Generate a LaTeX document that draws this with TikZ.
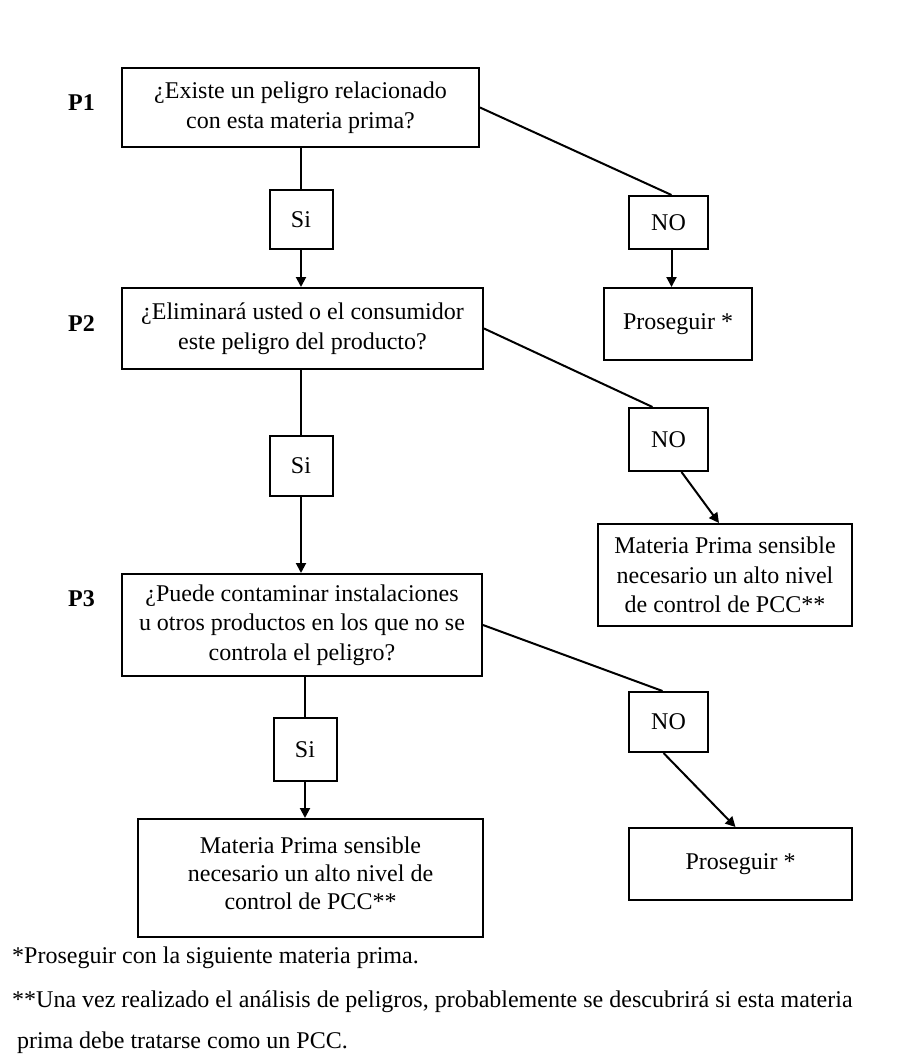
\documentclass[tikz,border=0pt]{standalone}
\usepackage{fontspec}
\setmainfont{Liberation Serif}
\usetikzlibrary{arrows.meta,calc}
\begin{document}
\begin{tikzpicture}[x=1pt,y=-1pt,
  box/.style={draw, line width=2pt, inner sep=0pt, align=center,
    font=\fontsize{24}{29.5}\selectfont},
  txt/.style={inner sep=0pt, align=center, font=\fontsize{24}{28}\selectfont},
  conn/.style={line width=2pt},
  arr/.style={conn, -{Triangle[length=10pt,width=10pt]}},
  qlabel/.style={anchor=base west, inner sep=0pt,
    font=\fontsize{24}{29}\selectfont\bfseries},
  note/.style={anchor=base west, inner sep=0pt,
    font=\fontsize{24}{29}\selectfont}]
\useasboundingbox (0,0) rectangle (903,1057);

% question labels
\node[qlabel] (l1) at (68,110) {P1};
\node[qlabel] (l2) at (68,331) {P2};
\node[qlabel] (l3) at (68,606) {P3};

% question boxes
\node[box, minimum width=357pt, minimum height=79pt] (p1) at (300.5,107.5)
  {¿Existe un peligro relacionado\\con esta materia prima?};
\node[box, minimum width=361pt, minimum height=81pt] (p2) at (302.5,328.5)
  {¿Eliminará usted o el consumidor\\este peligro del producto?};
\node[box, minimum width=360pt, minimum height=102pt] (p3) at (302,625)
  {¿Puede contaminar instalaciones\\u otros productos en los que no se\\controla el peligro?};

% answer boxes
\node[box, minimum width=63pt, minimum height=59pt] (si1) at (301,219.5) {Si};
\node[box, minimum width=63pt, minimum height=60pt] (si2) at (301,466) {Si};
\node[box, minimum width=63pt, minimum height=63pt] (si3) at (305,749.5) {Si};
\node[box, minimum width=79pt, minimum height=53pt] (no1) at (668.5,222.5) {NO};
\node[box, minimum width=79pt, minimum height=63pt] (no2) at (668.5,439.5) {NO};
\node[box, minimum width=79pt, minimum height=60pt] (no3) at (668.5,722) {NO};

% outcome boxes
\node[box, minimum width=148pt, minimum height=72pt] (pros1) at (678,324) {Proseguir *};
\node[box, minimum width=254pt, minimum height=102pt] (mat1) at (725,575)
  {Materia Prima sensible\\necesario un alto nivel\\de control de PCC**};
\node[box, minimum width=223pt, minimum height=72pt] (pros2) at (740.5,864) {Proseguir *};
\node[box, minimum width=345pt, minimum height=118pt] (mat2) at (310.5,878) {};
\node[txt] (mat2t) at ([yshift=5pt]mat2.center)
  {Materia Prima sensible\\necesario un alto nivel de\\control de PCC**};

% "Si" branches
\draw[conn] (si1.north |- p1.south) -- (si1.north);
\draw[arr] (si1.south) -- (si1.south |- p2.north);
\draw[conn] (si2.north |- p2.south) -- (si2.north);
\draw[arr] (si2.south) -- (si2.south |- p3.north);
\draw[conn] (si3.north |- p3.south) -- (si3.north);
\draw[arr] (si3.south) -- (si3.south |- mat2.north);

% "NO" branches
\draw[conn] (p1.east) -- ([xshift=3pt]no1.north);
\draw[arr] ([xshift=3pt]no1.south) -- ([xshift=3pt]no1.south |- pros1.north);
\draw[conn] (p2.east) -- ([xshift=-16pt]no2.north);
\draw[arr] ([xshift=13pt]no2.south) -- ([xshift=-6pt]mat1.north);
\draw[conn] (p3.east) -- ([xshift=-6pt]no3.north);
\draw[arr] ([xshift=-5pt]no3.south) -- ([xshift=-5pt]pros2.north);

% footnotes
\node[note] (n1) at (12,963.5) {*Proseguir con la siguiente materia prima.};
\node[note] (n2) at (12,1007.5) {**Una vez realizado el análisis de peligros, probablemente se descubrirá si esta materia};
\node[note] (n3) at (17,1048) {prima debe tratarse como un PCC.};
\end{tikzpicture}
\end{document}
